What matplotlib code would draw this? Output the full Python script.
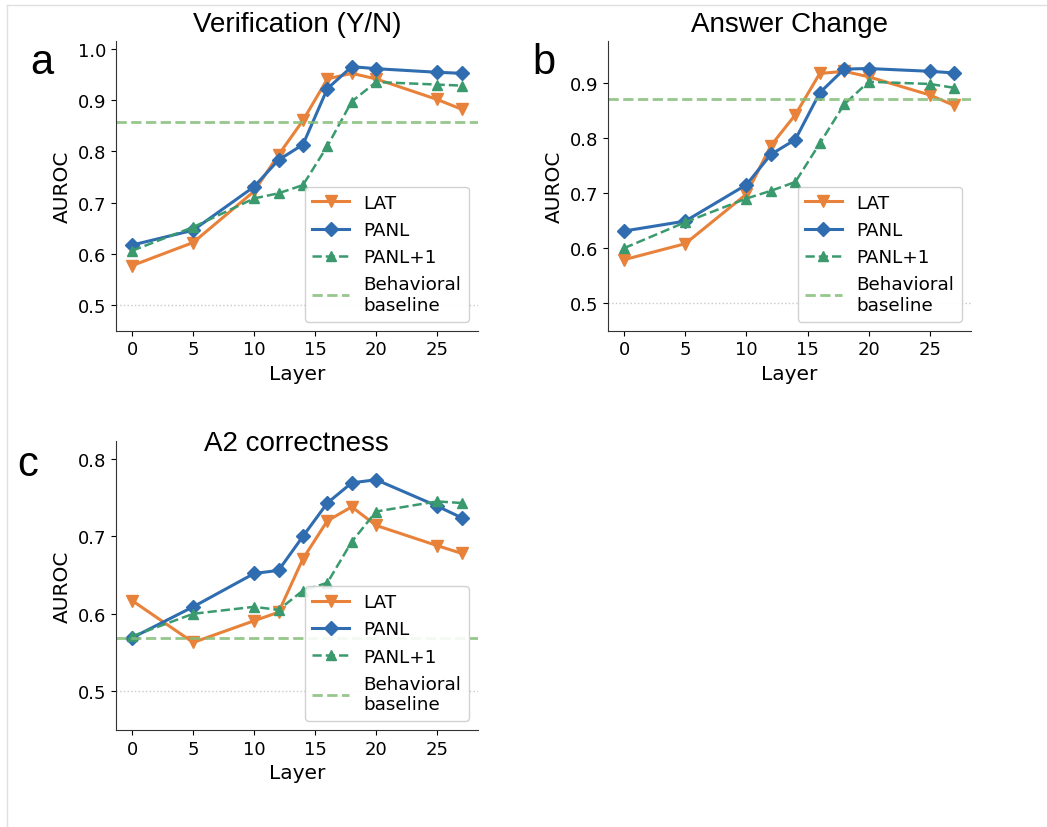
import numpy as np
import matplotlib
matplotlib.use("Agg")
import matplotlib.pyplot as plt
from matplotlib.lines import Line2D
from matplotlib.ticker import MultipleLocator

layers = [0, 5, 10, 12, 14, 16, 18, 20, 25, 27]

# a: Verification (Y/N)
ver_lat = [0.577, 0.622, 0.722, 0.793, 0.860, 0.941, 0.952, 0.941, 0.901, 0.882]
ver_panl = [0.617, 0.646, 0.731, 0.783, 0.813, 0.922, 0.965, 0.961, 0.954, 0.952]
ver_panl1 = [0.606, 0.652, 0.708, 0.718, 0.734, 0.810, 0.897, 0.935, 0.930, 0.928]
ver_base = 0.857

# b: Answer Change
ac_lat = [0.579, 0.608, 0.698, 0.786, 0.842, 0.917, 0.921, 0.911, 0.878, 0.859]
ac_panl = [0.631, 0.649, 0.715, 0.770, 0.797, 0.882, 0.925, 0.926, 0.921, 0.918]
ac_panl1 = [0.600, 0.647, 0.690, 0.704, 0.720, 0.790, 0.861, 0.902, 0.898, 0.891]
ac_base = 0.870

# c: A2 correctness
a2_lat = [0.617, 0.563, 0.591, 0.602, 0.671, 0.720, 0.738, 0.714, 0.688, 0.678]
a2_panl = [0.569, 0.609, 0.652, 0.656, 0.700, 0.743, 0.769, 0.773, 0.739, 0.724]
a2_panl1 = [0.571, 0.600, 0.609, 0.605, 0.630, 0.640, 0.693, 0.732, 0.745, 0.743]
a2_base = 0.569

titles = ["Verification (Y/N)", "Answer Change", "A2 correctness"]
letters = ["a", "b", "c"]

c_lat = "#E8823A"
c_panl = "#2F6DB0"
c_panl1 = "#3A9A6E"
c_base = "#84BD78"

fig = plt.figure(figsize=(10.47, 8.28), dpi=100)
W, H = 1047, 828

# axes boxes in pixels: left, top, right, bottom
boxes = [(115.7, 42.0, 478.0, 331.7),
         (607.7, 42.0, 970.7, 331.7),
         (115.7, 442.0, 478.0, 731.0)]
letter_pos = [(-0.237, 0.889), (-0.208, 0.889), (-0.273, 0.882)]

panels = [(ver_lat, ver_panl, ver_panl1, ver_base),
          (ac_lat, ac_panl, ac_panl1, ac_base),
          (a2_lat, a2_panl, a2_panl1, a2_base)]

for i, (lat, panl, panl1, base) in enumerate(panels):
    l, t, r, b = boxes[i]
    ax = fig.add_axes([l / W, 1 - b / H, (r - l) / W, (b - t) / H])
    ax.plot(layers, lat, color=c_lat, marker="v", lw=2.2, ms=8, label="LAT")
    ax.plot(layers, panl, color=c_panl, marker="D", lw=2.2, ms=7.5, label="PANL")
    ax.plot(layers, panl1, color=c_panl1, marker="^", lw=1.8, ms=7.5,
            ls="--", label="PANL+1")
    ax.axhline(base, color=c_base, ls="--", lw=2, alpha=0.85,
               label="Behavioral\nbaseline")
    ax.axhline(0.5, color="#bbbbbb", ls=":", lw=1, alpha=0.8)
    top = max(max(lat), max(panl), max(panl1)) + 0.05
    ax.set_ylim(0.45, top)
    ax.yaxis.set_major_locator(MultipleLocator(0.1))
    ax.set_xticks([0, 5, 10, 15, 20, 25])
    ax.set_xlabel("Layer", fontsize=14.5)
    ax.set_ylabel("AUROC", fontsize=14.5)
    ax.tick_params(labelsize=13)
    for s in ["top", "right"]:
        ax.spines[s].set_visible(False)
    for s in ["left", "bottom"]:
        ax.spines[s].set_color("#333333")
    if i < 2:
        ax.set_title(titles[i], fontsize=20, family="Liberation Sans", pad=7)
    else:
        # this title sits slightly inside the top of the axes in the original
        ax.set_title(titles[i], fontsize=20, family="Liberation Sans", y=0.969, pad=0)
    ax.text(letter_pos[i][0], letter_pos[i][1], letters[i], transform=ax.transAxes,
            fontsize=30, family="Liberation Sans", va="baseline", ha="left")
    ax.legend(loc="lower right", fontsize=13.2, framealpha=0.9)

# thin screenshot frame
fig.add_artist(Line2D([7 / W, 1], [1 - 6 / H, 1 - 6 / H], color="#e0e0e0", lw=1))
fig.add_artist(Line2D([7 / W, 7 / W], [0, 1 - 6 / H], color="#e0e0e0", lw=1))

plt.savefig("out.png", dpi=100)
